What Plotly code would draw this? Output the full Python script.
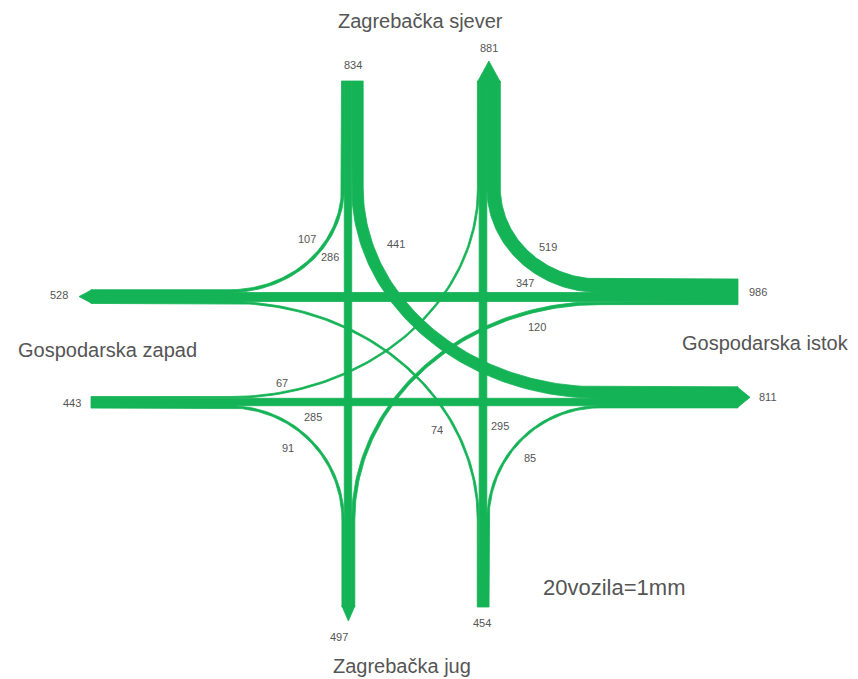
import numpy as np
import plotly.graph_objects as go

# brojanje prometa (vozila) po privozu: [desno, ravno, lijevo]
privoz_sjever = [107, 286, 441]
privoz_istok = [519, 347, 120]
privoz_jug = [85, 295, 74]
privoz_zapad = [91, 285, 67]

# ukupno ulaz / izlaz po kraku: sjever, istok, jug, zapad
ulaz_ukupno = [834, 986, 454, 443]
izlaz_ukupno = [881, 811, 497, 528]

nazivi = ["Zagrebačka sjever", "Gospodarska istok", "Zagrebačka jug", "Gospodarska zapad"]
mjerilo = "20vozila=1mm"

# --- layout / style -------------------------------------------------------
W, H = 858, 679
PAD = 8            # page body margin, the figure is drawn in page pixels
K = 0.026          # px per vehicle
GREEN = "#14b355"
TXT = "#555555"
FONT = "Liberation Sans, Arial, sans-serif"

# one-way carriageways, keyed by heading (dx, dy), y grows downward
roads = {
    (0, 1): dict(lat=348, start=81, split=188, merge=520, end=607),     # southbound
    (0, -1): dict(lat=483, start=607, split=520, merge=188, end=81),    # northbound
    (-1, 0): dict(lat=297, start=738, split=600, merge=230, end=91),    # westbound
    (1, 0): dict(lat=402, start=91, split=230, merge=600, end=738),     # eastbound
}
arrow_len = {(0, 1): 14, (0, -1): 20, (-1, 0): 12, (1, 0): 12}

approach = {(0, 1): privoz_sjever, (-1, 0): privoz_istok,
            (0, -1): privoz_jug, (1, 0): privoz_zapad}


def right_of(h):
    return (-h[1], h[0])


def left_of(h):
    return (h[1], -h[0])


def side(h):
    # sign of the lateral coordinate toward the driver's right
    return -h[1] if h[0] == 0 else h[0]


def pt(h, along, off):
    lat = roads[h]["lat"] + off
    return (lat, along) if h[0] == 0 else (along, lat)


def ribbon(pts, w):
    pts = np.asarray(pts, float)
    seg = np.diff(pts, axis=0)
    seg /= np.linalg.norm(seg, axis=1)[:, None]
    tan = np.vstack([seg[:1], seg[:-1] + seg[1:], seg[-1:]])
    tan /= np.linalg.norm(tan, axis=1)[:, None]
    nor = np.column_stack([-tan[:, 1], tan[:, 0]])
    a = pts + nor * w / 2
    b = pts - nor * w / 2
    poly = np.vstack([a, b[::-1], a[:1]])
    return poly[:, 0], poly[:, 1]


fig = go.Figure()


def add_poly(x, y):
    fig.add_trace(go.Scatter(x=x, y=y, mode="lines", fill="toself",
                             fillcolor=GREEN, line=dict(width=0.8, color=GREEN),
                             hoverinfo="skip", showlegend=False))


# lateral offsets of every lane
exit_lanes = {h: [] for h in roads}
for h, (vr, vs, vl) in approach.items():
    wr, ws, wl = vr * K, vs * K, vl * K
    s = side(h)
    r = roads[h]
    # straight flow
    x, y = ribbon([pt(h, r["start"], 0), pt(h, r["end"], 0)], ws)
    add_poly(x, y)
    exit_lanes[h] += [-ws / 2, ws / 2]
    for vol, w, e, a_off, to_right in [
        (vr, wr, right_of(h), s * (ws + wr) / 2, False),
        (vl, wl, left_of(h), -s * (ws + wl) / 2, True),
    ]:
        se = side(e)
        ws_e = approach[e][1] * K
        # right turners keep to the right side of the exit, left turners to the left
        e_off = (-se if to_right else se) * (ws_e + w) / 2
        re = roads[e]
        p_start = pt(h, r["start"], a_off)
        p0 = np.array(pt(h, r["split"], a_off))
        p1 = np.array(pt(e, re["merge"], e_off))
        p_end = pt(e, re["end"], e_off)
        c = np.array([p1[0], p0[1]]) if h[0] == 0 else np.array([p0[0], p1[1]])
        t = np.linspace(0, np.pi / 2, 80)[:, None]
        arc = c + (p0 - c) * np.cos(t) + (p1 - c) * np.sin(t)
        path = np.vstack([p_start, arc, p_end])
        x, y = ribbon(path, w)
        add_poly(x, y)
        exit_lanes[e] += [e_off - w / 2, e_off + w / 2]

# arrowheads on the exits
for e, offs in exit_lanes.items():
    lo, hi = min(offs), max(offs)
    end = roads[e]["end"]
    d = e[1] if e[0] == 0 else e[0]
    base = end - d * 1
    tip = end + d * arrow_len[e]
    pts = [pt(e, base, lo), pt(e, base, hi), pt(e, tip, (lo + hi) / 2), pt(e, base, lo)]
    add_poly([p[0] for p in pts], [p[1] for p in pts])

# --- labels -----------------------------------------------------------------
pokreti = privoz_sjever + privoz_istok + privoz_jug + privoz_zapad
pokret_xy = [(307, 239), (330, 257), (396, 244),
             (548, 247), (525, 283), (537, 327),
             (530, 458), (500, 426), (437, 430),
             (288, 448), (313, 417), (282, 383)]
ulaz_xy = [(353, 65), (758, 292), (482, 623), (72, 403)]
izlaz_xy = [(489, 48), (768, 397), (339, 637), (59, 295)]
naziv_xy = [(420, 21), (765, 343), (402, 666), (107, 350)]

ann = []
for v, (x, y) in zip(pokreti + ulaz_ukupno + izlaz_ukupno,
                     pokret_xy + ulaz_xy + izlaz_xy):
    ann.append(dict(x=x, y=y, text=str(v), showarrow=False,
                    font=dict(family=FONT, size=11, color=TXT)))
for n, (x, y) in zip(nazivi, naziv_xy):
    ann.append(dict(x=x, y=y, text=n, showarrow=False,
                    font=dict(family=FONT, size=20, color=TXT)))
ann.append(dict(x=614, y=587, text=mjerilo, showarrow=False,
                font=dict(family=FONT, size=22, color=TXT)))

fig.update_layout(
    width=W - PAD, height=H - PAD,
    margin=dict(l=0, r=0, t=0, b=0),
    paper_bgcolor="white", plot_bgcolor="white",
    xaxis=dict(range=[PAD, W], visible=False, fixedrange=True),
    yaxis=dict(range=[H, PAD], visible=False, fixedrange=True),
    annotations=ann,
)

fig.write_html("out.html")
